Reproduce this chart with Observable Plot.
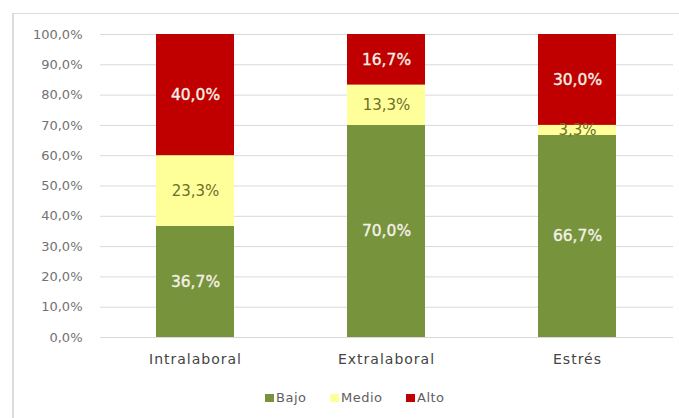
<!DOCTYPE html>
<html><head><meta charset="utf-8">
<script src="https://cdn.jsdelivr.net/npm/d3@7"></script>
<script src="https://cdn.jsdelivr.net/npm/@observablehq/plot@0.6"></script>
<style>
body{margin:0;background:#fff;font-family:"DejaVu Sans",sans-serif;}
#wrap{position:relative;width:679px;height:418px;overflow:hidden;}
#frame{position:absolute;left:12px;top:13px;width:700px;height:500px;border-left:2px solid #dcdcdc;border-top:1px solid #dcdcdc;pointer-events:none;}
#chart{position:absolute;left:0;top:0;}
.leg{position:absolute;top:390px;font-size:13px;letter-spacing:0.5px;color:#606060;display:flex;align-items:center;white-space:nowrap;line-height:16px;}
.sw{width:9px;height:8px;margin-right:2px;}
</style></head><body><div id="wrap"><div id="chart"></div><div id="frame"></div></div>
<script>
const categories = ["Intralaboral", "Extralaboral", "Estrés"];
const levels = ["Bajo", "Medio", "Alto"];
const bajo = [36.7, 70.0, 66.7];
const medio = [23.3, 13.3, 3.3];
const alto = [40.0, 16.7, 30.0];
const yTicks = [0, 10, 20, 30, 40, 50, 60, 70, 80, 90, 100];
const colors = ["#77933C", "#FFFF99", "#C00000"];

const series = {Bajo: bajo, Medio: medio, Alto: alto};
const data = [];
levels.forEach(l => categories.forEach((c, i) => data.push({category: c, level: l, value: series[l][i]})));
const fmt = v => v.toFixed(1).replace(".", ",") + "%";

const stackOpts = (text) => Plot.stackY({x: "category", y: "value", z: "level", order: levels, text});

const chart = Plot.plot({
  width: 679,
  height: 375,
  marginLeft: 100,
  marginRight: 6,
  marginTop: 34,
  marginBottom: 38,
  style: {fontFamily: "'DejaVu Sans', sans-serif", overflow: "visible", background: "transparent"},
  x: {domain: categories, paddingInner: 0.59, paddingOuter: 0.295, label: null},
  y: {domain: [0, 100], ticks: yTicks, label: null, tickFormat: fmt},
  color: {domain: levels, range: colors},
  marks: [
    Plot.ruleY(yTicks, {stroke: "#d9d9d9", strokeWidth: 1}),
    Plot.axisY({ticks: yTicks, tickFormat: fmt, tickSize: 0, tickPadding: 18, fontSize: 13, fill: "#727272", label: null}),
    Plot.axisX({tickSize: 0, tickPadding: 17, fontSize: 14, fill: "#444", label: null}),
    Plot.barY(data, Plot.stackY({x: "category", y: "value", z: "level", fill: "level", order: levels})),
    Plot.text(data, {...stackOpts(d => d.level === "Medio" ? "" : fmt(d.value)), fill: "#f3f1e8", fontSize: 15.5, stroke: "#f3f1e8", strokeWidth: 0.35}),
    Plot.text(data, {...stackOpts(d => d.level === "Medio" ? fmt(d.value) : ""), fill: "#6e6e2e", fontSize: 15})
  ]
});
d3.select(chart).selectAll("[aria-label='x-axis tick label'] text").attr("letter-spacing", "1px");
document.getElementById("chart").appendChild(chart);

const legPos = [265, 330, 406];
levels.forEach((l, i) => {
  const d = document.createElement("div");
  d.className = "leg";
  d.style.left = legPos[i] + "px";
  d.innerHTML = `<span class="sw" style="background:${colors[i]}"></span><span>${l}</span>`;
  document.getElementById("wrap").appendChild(d);
});
</script>
</body></html>
